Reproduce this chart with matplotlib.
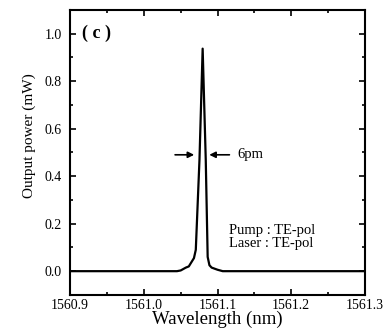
import numpy as np
import matplotlib
matplotlib.use("Agg")
import matplotlib.pyplot as plt
from matplotlib.ticker import MultipleLocator

plt.rcParams['font.family'] = ['Liberation Serif', 'DejaVu Serif']

# spectrum
wavelength = [1560.90, 1561.045, 1561.050, 1561.057, 1561.061, 1561.064, 1561.068,
              1561.0705, 1561.0755, 1561.0798, 1561.0840, 1561.0866, 1561.089,
              1561.092, 1561.100, 1561.107, 1561.30]
power = [0.0, 0.0, 0.003, 0.015, 0.02, 0.035, 0.055,
         0.09, 0.47, 0.937, 0.47, 0.06, 0.025,
         0.015, 0.006, 0.0, 0.0]

xticks = [1560.9, 1561.0, 1561.1, 1561.2, 1561.3]
yticks = [0.0, 0.2, 0.4, 0.6, 0.8, 1.0]

fig = plt.figure(figsize=(3.83, 3.31), dpi=100)
ax = fig.add_axes([0.183, 0.109, 0.770, 0.861])

ax.plot(wavelength, power, color='black', lw=1.6)

ax.set_xlim(1560.9, 1561.3)
ax.set_ylim(-0.1, 1.1)
ax.set_xticks(xticks)
ax.set_xticklabels(['%.1f' % t for t in xticks])
ax.set_yticks(yticks)
ax.set_yticklabels(['%.1f' % t for t in yticks])
ax.xaxis.set_minor_locator(MultipleLocator(0.05))
ax.yaxis.set_minor_locator(MultipleLocator(0.1))
ax.tick_params(which='both', direction='in', top=True, right=True, labelsize=10, width=1.2)
ax.tick_params(which='major', length=4, pad=3)
ax.tick_params(axis='y', which='major', pad=6)
ax.tick_params(which='minor', length=2.5)
for s in ax.spines.values():
    s.set_linewidth(1.5)

ax.set_xlabel('Wavelength (nm)', fontsize=13.5, labelpad=-1)
ax.set_ylabel('Output power (mW)', fontsize=11)
ax.yaxis.set_label_coords(-0.115, 0.56)

# FWHM arrows
ax.annotate('', xy=(1561.0683, 0.49), xytext=(1561.0424, 0.49),
            arrowprops=dict(arrowstyle='-|>', color='black', lw=1.2, mutation_scale=9,
                            shrinkA=0, shrinkB=0))
ax.annotate('', xy=(1561.0888, 0.49), xytext=(1561.1161, 0.49),
            arrowprops=dict(arrowstyle='-|>', color='black', lw=1.2, mutation_scale=9,
                            shrinkA=0, shrinkB=0))
ax.text(1561.127, 0.49, '6pm', fontsize=10.5, va='center')

ax.text(1560.916, 1.0, '( c )', fontsize=13, va='center', fontweight='bold')
ax.text(1561.115, 0.17, 'Pump : TE-pol', fontsize=10.5, va='center')
ax.text(1561.115, 0.115, 'Laser : TE-pol', fontsize=10.5, va='center')

fig.savefig('out.png', dpi=100)
